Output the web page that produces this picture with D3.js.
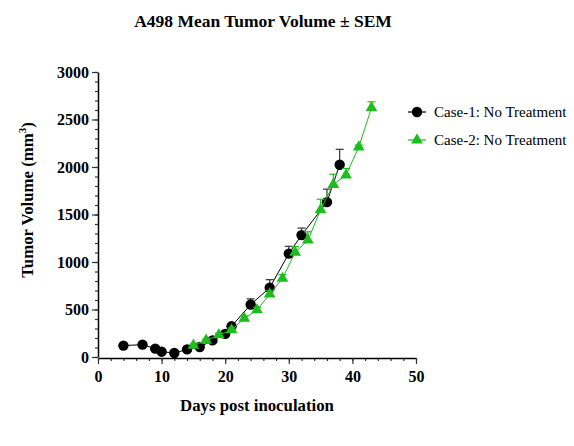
<!DOCTYPE html>
<html>
<head>
<meta charset="utf-8">
<script src="https://cdn.jsdelivr.net/npm/d3@7"></script>
<style>
  body { margin: 0; background: #fff; }
  svg text { font-family: "Liberation Serif", "Times New Roman", serif; }
</style>
</head>
<body>
<svg id="chart" width="574" height="446"></svg>
<script>
// Case-1: No Treatment
const case1Days = [4, 7, 9, 10, 12, 14, 16, 18, 20, 21, 24, 27, 30, 32, 36, 38];
const case1Mean = [120, 130, 88, 56, 42, 80, 105, 175, 243, 323, 552, 729, 1088, 1283, 1630, 2024];
const case1Sem  = [10, 10, 10, 8, 8, 10, 15, 18, 22, 25, 60, 85, 77, 74, 137, 162];

// Case-2: No Treatment
const case2Days = [15, 17, 19, 21, 23, 25, 27, 29, 31, 33, 35, 37, 39, 41, 43];
const case2Mean = [123, 176, 232, 285, 406, 495, 662, 827, 1101, 1230, 1549, 1816, 1915, 2210, 2622];
const case2Sem  = [12, 15, 18, 20, 25, 28, 35, 40, 60, 88, 112, 108, 70, 20, 64];

const seriesNames = ["Case-1: No Treatment", "Case-2: No Treatment"];
const xTicks = [0, 10, 20, 30, 40, 50];
const yTicks = [0, 500, 1000, 1500, 2000, 2500, 3000];

const svg = d3.select("#chart");
const margin = {top: 72, right: 158, bottom: 89, left: 98};
const width = 574 - margin.left - margin.right;
const height = 446 - margin.top - margin.bottom;

const g = svg.append("g").attr("transform", `translate(${margin.left},${margin.top})`);

const x = d3.scaleLinear().domain([0, 50]).range([0, width]);
const y = d3.scaleLinear().domain([0, 3000]).range([height, 0]);

// minor ticks
g.append("g")
  .attr("transform", `translate(0,${height + 1})`)
  .call(d3.axisBottom(x).tickValues(d3.range(0, 51, 2)).tickSize(3).tickFormat(""))
  .call(a => a.select(".domain").remove());
g.append("g")
  .call(d3.axisLeft(y).tickValues(d3.range(0, 3001, 100)).tickSize(3).tickFormat(""))
  .call(a => a.select(".domain").remove());

// X axis
const xAxis = g.append("g")
  .attr("transform", `translate(0,${height + 1})`)
  .call(d3.axisBottom(x).tickValues(xTicks).tickFormat(d3.format("d"))
    .tickSize(6).tickPadding(7).tickSizeOuter(0));
xAxis.selectAll("text").attr("font-size", 16).attr("font-weight", "bold").attr("fill", "#000");

// Y axis
const yAxis = g.append("g")
  .call(d3.axisLeft(y).tickValues(yTicks).tickFormat(d3.format("d"))
    .tickSize(6).tickPadding(3).tickSizeOuter(0));
yAxis.selectAll("text").attr("font-size", 16).attr("font-weight", "bold").attr("fill", "#000");

g.selectAll(".domain").attr("stroke", "#000").attr("stroke-width", 1.5);
g.selectAll(".tick line").attr("stroke", "#333").attr("stroke-width", 1.2);

const green = "#1cbd1c";
const series = [
  {days: case1Days, mean: case1Mean, sem: case1Sem, color: "#000", shape: d3.symbolCircle, size: 85},
  {days: case2Days, mean: case2Mean, sem: case2Sem, color: green, shape: d3.symbolTriangle, size: 60}
];

const line = d3.line().x(d => x(d[0])).y(d => y(d[1]));

series.forEach(s => {
  const pts = s.days.map((d, i) => [d, s.mean[i], s.sem[i]]);
  const ebColor = s.color === "#000" ? "#333" : s.color;
  // error bars (upper only)
  const eb = g.append("g");
  eb.selectAll("line.v").data(pts).join("line")
    .attr("x1", d => x(d[0])).attr("x2", d => x(d[0]))
    .attr("y1", d => y(d[1])).attr("y2", d => y(d[1] + d[2]))
    .attr("stroke", ebColor).attr("stroke-width", 1.2);
  eb.selectAll("line.c").data(pts).join("line")
    .attr("x1", d => x(d[0]) - 4).attr("x2", d => x(d[0]) + 4)
    .attr("y1", d => y(d[1] + d[2])).attr("y2", d => y(d[1] + d[2]))
    .attr("stroke", ebColor).attr("stroke-width", 1.2);
  g.append("path").datum(pts)
    .attr("fill", "none").attr("stroke", s.color).attr("stroke-width", 1)
    .attr("d", line);
  g.append("g").selectAll("path").data(pts).join("path")
    .attr("transform", d => `translate(${x(d[0])},${y(d[1])})`)
    .attr("d", d3.symbol().type(s.shape).size(s.size))
    .attr("fill", s.color);
});

// Legend
series.forEach((s, i) => {
  const ly = 112 + i * 28;
  const lg = svg.append("g").attr("transform", `translate(417,${ly})`);
  lg.append("line").attr("x1", -9).attr("x2", 9).attr("stroke", s.color).attr("stroke-width", 1.2);
  lg.append("path").attr("d", d3.symbol().type(s.shape).size(s.size)).attr("fill", s.color);
  svg.append("text").attr("x", 434).attr("y", ly + 5)
    .attr("font-size", 15).attr("fill", "#000").text(seriesNames[i]);
});

// Title
svg.append("text").attr("x", 263).attr("y", 27).attr("text-anchor", "middle")
  .attr("font-size", 17.5).attr("font-weight", "bold").text("A498 Mean Tumor Volume ± SEM");

// Axis titles
svg.append("text").attr("x", 257).attr("y", 411).attr("text-anchor", "middle")
  .attr("font-size", 16.8).attr("font-weight", "bold").text("Days post inoculation");

const yl = svg.append("text").attr("transform", "translate(33,200) rotate(-90)")
  .attr("text-anchor", "middle").attr("font-size", 16.8).attr("font-weight", "bold");
yl.append("tspan").text("Tumor Volume (mm");
yl.append("tspan").attr("font-size", 11).attr("dy", -7).text("3");
yl.append("tspan").attr("dy", 7).text(")");
</script>
</body>
</html>
